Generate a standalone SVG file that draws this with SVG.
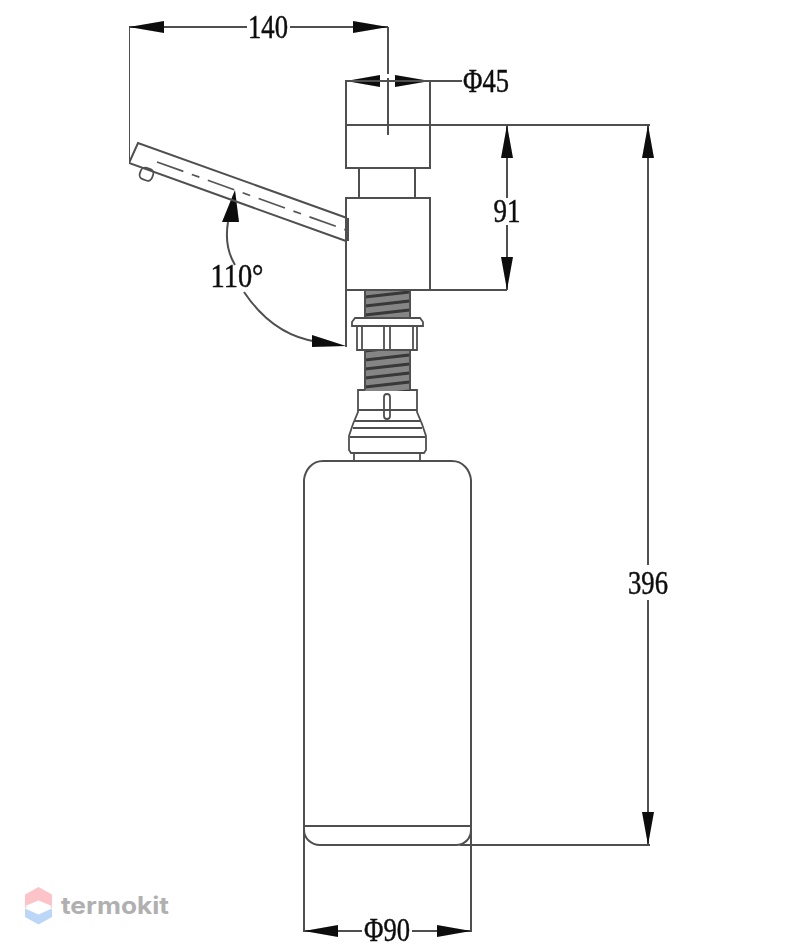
<svg xmlns="http://www.w3.org/2000/svg" width="800" height="950" viewBox="0 0 800 950">
<style>
.l{fill:none;stroke:#505050;stroke-width:2}
.t{fill:none;stroke:#505050;stroke-width:1.8}
.d{fill:none;stroke:#555;stroke-width:1.8;stroke-dasharray:28 9 8 9}
.a{fill:#0a0a0a;stroke:none}
.x{font-family:"Liberation Serif",serif;font-size:33px;fill:#111;stroke:#111;stroke-width:.5;text-anchor:middle}
.w{font-family:"Inter","Liberation Sans",sans-serif;font-weight:700;font-size:24px;fill:#b0b0b0}
</style>
<defs>
<pattern id="thread" width="45" height="9" patternUnits="userSpaceOnUse" patternTransform="translate(365 291)">
<rect width="45" height="9" fill="#858585"/>
<path d="M0 6L45 1M0 15L45 10M0 -3L45 -8" stroke="#383838" stroke-width="3.2" fill="none"/>
</pattern>
<filter id="soft" x="0" y="0" width="100%" height="100%"><feGaussianBlur stdDeviation="0.45"/></filter>
</defs>
<rect width="800" height="950" fill="#fff"/>
<g filter="url(#soft)">
<g id="connectors">
<path class="l" d="M129 27H247M290 27H388M129 27V163M388 27V74M388 78V135"/>
<path class="a" d="M129 27L164 21V33ZM388 27L353 21V33Z"/>
<path class="l" d="M346 81H462"/>
<path class="a" d="M346 81L380 75V87ZM430 81L395 75V87Z"/>
<path class="l" d="M346 125H650M430 290H507"/>
<path class="l" d="M507 125V198M507 225V290"/>
<path class="a" d="M507 125L501 158H513ZM507 290L501 257H513Z"/>
<path class="l" d="M648 125V565M648 600V845M460 845H650"/>
<path class="a" d="M648 125L642 158H654ZM648 845L642 812H654Z"/>
<path class="l" d="M304 826V932M471 826V932M304 931H362M412 931H471"/>
<path class="a" d="M304 931L338 925V937ZM471 931L437 925V937Z"/>
<path class="l" d="M228 222C225 240 229 255 235 265M244 292C264 322 290 338 318 342"/>
<path class="a" d="M235 190L222 222H239ZM346 346L312 335V347Z"/>
</g>
<g id="handle">
<path class="l" d="M347 218L138 143L129 163L346 241"/>
<path class="l" d="M348 218V241"/>
<path class="d" d="M157 162L349 231"/>
<rect class="t" x="140" y="168" width="13" height="12" rx="4.500" transform="rotate(20 146 174)"/>
</g>
<g id="cap">
<rect class="l" x="346" y="81" width="84" height="87"/>
<path class="l" d="M359 168V198M415 168V198"/>
</g>
<g id="body">
<rect class="l" x="346" y="198" width="84" height="92"/>
<path class="l" d="M346 290V347"/>
</g>
<g id="fitting">
<rect x="365" y="291" width="45" height="27" fill="url(#thread)"/>
<rect x="365" y="350" width="45" height="41" fill="url(#thread)"/>
<path class="l" d="M365 291V317M410 291V317M365 350V390M410 350V390"/>
<path class="t" d="M355 318H420L423 322V326H352V322Z"/>
<path class="t" d="M357 326V350H417V326M362 326V350M413 326V350M384 326V350M390 326V350M357 350H417"/>
<path class="t" d="M365 390H358V412L353 424L349 436V450L351 453H424L426 450V436L422 424L417 412V390H410"/>
<path class="t" d="M358 410H417M355 421H420M350 437H425M353 428H422"/>
<rect class="t" x="384" y="394" width="6" height="25" rx="3" fill="#fff"/>
<path class="t" d="M354 453V461M420 453V461"/>
</g>
<g id="bottle">
<path class="l" d="M304 480C305 470 312 461 323 461H452C463 461 470 470 471 480V826M304 480V826"/>
<path class="l" d="M304 826H471V830C471 838 465 845 456 845H320C311 845 304 838 304 830Z"/>
</g>
<g id="labels">
<text class="x" x="268" y="38" textLength="40" lengthAdjust="spacingAndGlyphs">140</text>
<text class="x" x="486" y="92" textLength="46" lengthAdjust="spacingAndGlyphs">Φ45</text>
<text class="x" x="507" y="222" textLength="27" lengthAdjust="spacingAndGlyphs">91</text>
<text class="x" x="648" y="594" textLength="40" lengthAdjust="spacingAndGlyphs">396</text>
<text class="x" x="237" y="287" textLength="53" lengthAdjust="spacingAndGlyphs">110°</text>
<text class="x" x="387" y="941" textLength="46" lengthAdjust="spacingAndGlyphs">Φ90</text>
</g>
</g>
<g id="watermark">
<path d="M38.500 887L52 894.500V908L38.500 902L25 908V894.500Z" fill="#fcc4c9"/>
<path d="M25 908.500L38.500 914.500L52 908.500V917L38.500 924.500L25 917Z" fill="#bcd6f7"/>
<path d="M25 906L38.500 900.500L52 906L38.500 911Z" fill="#fff"/>
<text class="w" x="61" y="914" textLength="108" lengthAdjust="spacingAndGlyphs">termokit</text>
</g>
</svg>
